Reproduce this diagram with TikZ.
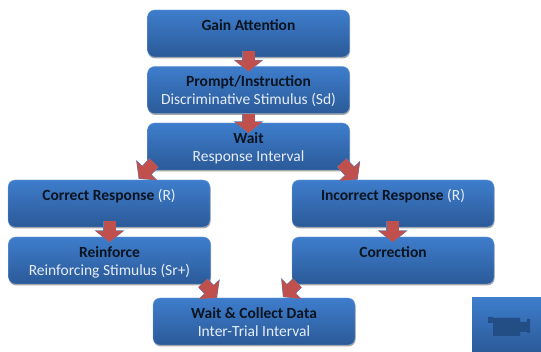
\documentclass[tikz,border=0pt]{standalone}
\usepackage{fontspec}
\setmainfont{Carlito}
\usetikzlibrary{arrows.meta,shadows,calc}
\definecolor{boxtop}{HTML}{3E7DCC}
\definecolor{boxbot}{HTML}{2B5A98}
\definecolor{arrowred}{HTML}{C0504D}
\definecolor{arrowedge}{HTML}{4F81BD}
\definecolor{lighttext}{HTML}{E6EDF6}
\definecolor{darktext}{HTML}{0B1420}
\definecolor{camdark}{HTML}{234E85}
\newcommand{\hd}[1]{\rule{0pt}{16pt}{\bfseries\color{darktext}#1}}
\newcommand{\subl}[1]{#1\rule[-4pt]{0pt}{4pt}}
\newcommand{\blockarrow}[2]{%
  \draw[arrowedge,line width=13pt,-{Triangle[length=12pt,width=29pt]},shorten >=-0.5pt] (#1) -- (#2);
  \draw[arrowred,line width=12pt,-{Triangle[length=11pt,width=27pt]}] (#1) -- (#2);
}
\tikzset{
  flowbox/.style={rounded corners=7pt,minimum width=202pt,minimum height=47pt,inner sep=0pt,
    top color=boxtop,bottom color=boxbot,draw=boxtop!70!white,line width=0.3pt,
    drop shadow={shadow xshift=0.6pt,shadow yshift=-1.4pt,opacity=0.35,fill=black},
    text=lighttext,align=center,font=\fontsize{15.5pt}{18pt}\selectfont},
}
\begin{document}
\begin{tikzpicture}[x=1pt,y=-1pt]
\useasboundingbox (0,0) rectangle (541,352);
\node[flowbox] (gain) at (248.5,33.5) {\hd{Gain Attention}\\\subl{}};
\node[flowbox] (prompt) at (248.5,90) {\hd{Prompt/Instruction}\\\subl{Discriminative Stimulus (Sd)}};
\node[flowbox] (wait) at (248.5,146.5) {\hd{Wait}\\\subl{Response Interval}};
\node[flowbox] (correct) at (109,203.5) {\hd{Correct Response} (R)\\\subl{}};
\node[flowbox] (incorrect) at (393,203.5) {\hd{Incorrect Response} (R)\\\subl{}};
\node[flowbox] (reinforce) at (109.5,260.5) {\hd{Reinforce}\\\subl{Reinforcing Stimulus (Sr+)}};
\node[flowbox] (correction) at (393,260.5) {\hd{Correction}\\\subl{}};
\node[flowbox] (collect) at (254,321.5) {\hd{Wait \& Collect Data}\\\subl{Inter-Trial Interval}};
\node[rectangle,minimum width=69pt,minimum height=54pt,inner sep=0pt,top color=boxtop,bottom color=boxbot,draw=none] (cam) at (506.5,325) {};
\fill[camdark] (488,317) -- (493,317) -- (493,318) -- (520,318) -- (520,322) -- (527,322) -- (527,319) -- (530,319) -- (530,333) -- (527,333) -- (527,332) -- (520,332) -- (520,336) -- (493,336) -- (493,323) -- (488,323) -- cycle;
\coordinate (gainS) at ($(gain.south)+(0,-6)$);
\coordinate (promptN) at ($(prompt.north)+(0,5)$);
\coordinate (promptS) at ($(prompt.south)+(0,0.5)$);
\coordinate (waitN) at ($(wait.north)+(0,10)$);
\coordinate (waitL) at (154,162.7);
\coordinate (correctN) at (139,178.5);
\coordinate (waitR) at (341.7,162.7);
\coordinate (incorrectN) at (357.3,179.3);
\coordinate (correctS) at (109.5,221);
\coordinate (reinforceN) at (109.5,242);
\coordinate (incorrectS) at (392.7,221);
\coordinate (correctionN) at (392.7,242);
\coordinate (reinforceS) at (203,283);
\coordinate (collectL) at (216.7,297.7);
\coordinate (correctionS) at (297.3,283);
\coordinate (collectR) at (283.3,296.7);
\blockarrow{gainS}{promptN}
\blockarrow{promptS}{waitN}
\blockarrow{waitL}{correctN}
\blockarrow{waitR}{incorrectN}
\blockarrow{correctS}{reinforceN}
\blockarrow{incorrectS}{correctionN}
\blockarrow{reinforceS}{collectL}
\blockarrow{correctionS}{collectR}
\end{tikzpicture}
\end{document}
